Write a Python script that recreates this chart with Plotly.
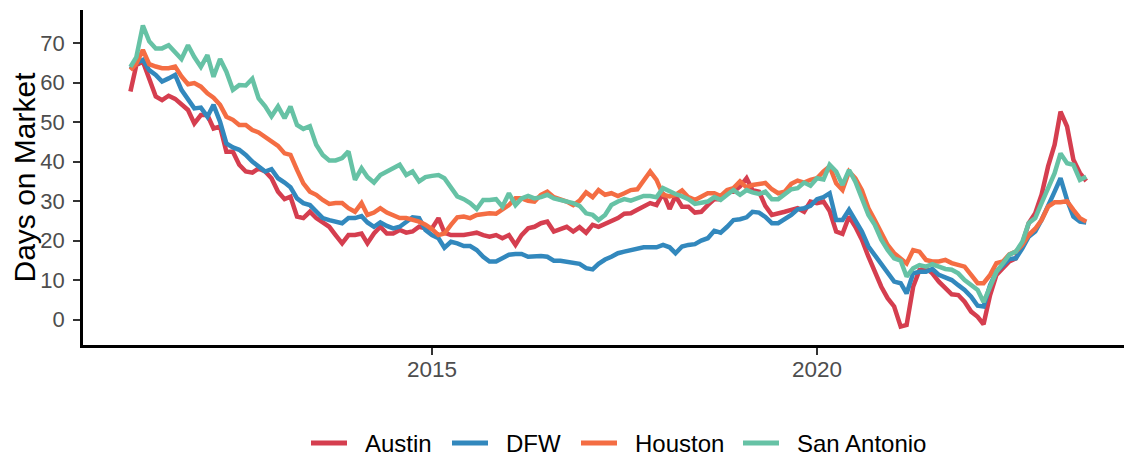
import pandas as pd
import plotly.graph_objects as go

dates = pd.date_range("2011-02-01", periods=150, freq="MS")

austin = [57.8, 64.5, 65.4, 60.7, 56.5, 55.6, 56.7, 55.9, 54.4, 53.1, 49.7, 51.8, 51.8, 48.4, 48.9, 42.5, 42.5, 39.2, 37.5, 37.2, 38.3, 37.5, 35.8, 32.4, 30.5,
          31.1, 26.1, 25.7, 27.3, 25.7, 24.6, 23.5, 21.4, 19.3, 21.4, 21.4, 21.8, 19.3, 21.8, 23.5, 21.8, 21.8, 22.7, 22.0, 22.3, 23.5, 23.1, 23.1, 25.7, 22.0,
          21.4, 21.4, 21.4, 21.7, 22.0, 21.4, 21.0, 21.4, 20.6, 21.4, 18.9, 21.4, 23.1, 23.5, 24.4, 24.8, 22.3, 22.9, 23.5, 22.3, 23.4, 22.0, 24.0, 23.5, 24.2,
          24.8, 25.7, 26.8, 26.9, 27.8, 28.6, 29.5, 29.0, 32.0, 28.0, 31.3, 28.6, 28.6, 27.1, 27.3, 29.0, 30.5, 30.5, 32.4, 32.4, 33.7, 35.8, 32.8, 32.4, 28.8,
          26.5, 26.8, 27.3, 27.8, 28.2, 27.3, 29.9, 29.5, 29.9, 27.5, 22.3, 21.7, 26.1, 23.5, 20.2, 15.9, 12.1, 8.3, 5.4, 3.3, -1.8, -1.4, 8.3, 12.5, 13.0,
          11.7, 9.6, 7.9, 6.4, 6.2, 4.5, 2.0, 0.7, -1.2, 6.2, 11.3, 13.1, 14.7, 15.5, 19.3, 24.4, 26.9, 31.6, 38.8, 44.3, 52.7, 48.9, 40.5, 37.1, 35.1]

dfw = [63.5, 65.0, 65.8, 63.2, 62.0, 60.3, 61.1, 62.0, 58.2, 55.6, 53.5, 53.7, 51.4, 54.4, 50.1, 44.6, 43.6, 43.0, 41.7, 40.0, 38.7, 37.5, 38.1, 35.8, 34.7,
       33.5, 30.7, 29.5, 29.0, 27.3, 25.7, 25.2, 24.8, 24.4, 25.7, 25.7, 26.2, 24.6, 23.5, 24.6, 23.7, 23.1, 23.5, 24.8, 25.9, 25.7, 22.7, 21.4, 20.6, 18.2,
       19.7, 19.3, 18.6, 18.6, 17.6, 15.9, 14.7, 14.7, 15.5, 16.4, 16.6, 16.6, 15.9, 16.1, 16.1, 15.9, 14.9, 14.9, 14.7, 14.4, 14.1, 13.0, 12.7, 14.1, 15.2,
       15.9, 16.8, 17.2, 17.6, 18.0, 18.3, 18.3, 18.3, 18.9, 18.3, 16.8, 18.5, 18.9, 19.1, 20.0, 20.6, 22.5, 22.0, 23.5, 25.2, 25.4, 25.9, 27.3, 27.1, 26.0,
       24.4, 24.4, 25.4, 26.5, 27.9, 28.2, 28.8, 30.5, 31.0, 32.0, 25.2, 25.2, 27.8, 25.2, 22.3, 18.5, 16.4, 14.2, 12.1, 9.6, 9.2, 6.6, 11.7, 12.1, 12.1,
       12.8, 11.3, 10.6, 10.0, 8.7, 7.5, 5.8, 3.5, 3.3, 8.7, 12.1, 13.8, 15.3, 15.5, 18.0, 21.0, 22.3, 25.2, 28.6, 32.4, 35.8, 30.3, 26.1, 24.8, 24.6]

houston = [63.2, 64.9, 68.3, 64.7, 64.1, 63.7, 63.7, 64.1, 61.6, 59.6, 59.9, 59.0, 57.3, 56.2, 54.4, 51.4, 50.6, 49.3, 49.3, 48.0, 47.4, 46.3, 45.1, 44.0, 42.1,
           41.7, 37.9, 34.5, 32.4, 31.6, 30.3, 29.3, 29.5, 29.5, 28.2, 27.3, 29.5, 26.5, 27.1, 28.2, 27.1, 26.5, 25.7, 25.7, 25.2, 24.8, 24.0, 22.9, 21.4, 21.8,
           24.0, 25.9, 26.1, 25.7, 26.5, 26.8, 26.9, 26.8, 27.8, 29.0, 30.7, 30.7, 30.1, 29.9, 31.6, 32.4, 31.0, 30.5, 29.9, 29.0, 30.1, 32.2, 31.0, 32.8, 31.6,
           32.0, 31.3, 32.0, 32.8, 33.0, 35.0, 37.5, 35.4, 31.6, 31.2, 31.6, 32.7, 31.0, 30.3, 31.0, 32.0, 32.0, 31.3, 32.8, 33.3, 35.0, 33.5, 34.1, 34.4, 34.6,
           33.0, 32.0, 32.4, 34.4, 35.2, 34.7, 35.4, 35.8, 37.5, 38.8, 34.5, 32.8, 37.5, 35.8, 32.8, 28.2, 25.2, 21.9, 18.9, 16.8, 15.5, 14.2, 17.6, 17.2, 15.1,
           14.7, 14.7, 15.1, 14.3, 13.7, 13.4, 11.3, 9.2, 9.2, 11.3, 14.3, 14.7, 16.5, 17.2, 18.9, 21.4, 23.0, 25.2, 28.6, 29.7, 29.7, 30.0, 27.8, 25.7, 24.8]

san_antonio = [64.0, 66.5, 74.5, 70.5, 68.7, 68.7, 69.5, 67.5, 66.0, 69.5, 66.5, 64.0, 67.0, 61.5, 66.0, 62.8, 58.2, 59.4, 59.3, 61.0, 56.0, 54.0, 51.5, 54.0, 51.0,
               54.0, 49.3, 48.3, 49.0, 44.3, 41.7, 40.3, 40.3, 40.9, 42.6, 35.4, 38.3, 36.1, 34.7, 36.6, 37.5, 38.1, 39.2, 36.6, 37.5, 35.0, 36.1, 36.4, 36.6, 35.8,
               33.3, 31.2, 30.5, 29.5, 28.0, 30.3, 30.3, 30.5, 28.6, 32.0, 29.0, 30.7, 31.3, 30.7, 31.0, 31.6, 30.7, 30.3, 29.9, 29.5, 28.8, 26.9, 26.5, 25.2, 26.5,
               29.0, 29.9, 30.5, 30.1, 30.7, 31.3, 31.3, 31.0, 33.3, 32.4, 31.8, 31.2, 30.5, 29.3, 29.5, 29.9, 31.0, 30.3, 31.6, 32.8, 31.6, 32.8, 32.2, 31.8, 32.4,
               30.5, 30.5, 31.6, 33.0, 33.3, 34.7, 33.9, 35.8, 35.5, 39.2, 37.5, 34.1, 37.9, 34.9, 30.7, 26.5, 24.0, 20.2, 17.6, 15.5, 14.9, 10.9, 13.0, 13.8, 13.4,
               14.0, 13.4, 12.8, 12.6, 11.7, 10.0, 8.9, 7.5, 4.4, 8.7, 12.1, 14.2, 16.4, 17.2, 19.7, 24.4, 25.7, 29.5, 33.3, 37.1, 42.1, 39.6, 39.2, 35.4, 36.2]

series_names = ["Austin", "DFW", "Houston", "San Antonio"]
series_values = [austin, dfw, houston, san_antonio]
colors = ["#D53E4F", "#3288BD", "#F46D43", "#66C2A5"]

y_ticks = [0, 10, 20, 30, 40, 50, 60, 70]
x_tick_labels = ["2015", "2020"]
x_tick_vals = ["2015-01-01", "2020-01-01"]

font_family = "Liberation Sans, Arial, sans-serif"

# page has an 8px body margin; figure sized to fill the rest of the window
OFF = 8
W, H = 1132 - OFF, 458 - OFF
ML, MR, MT, MB = 83 - OFF, 4, 10 - OFF, 113
PW, PH = W - ML - MR, H - MT - MB

def px_to_paper_x(px):
    return (px - OFF - ML) / PW

def px_to_paper_y(py):
    return (H - MB - (py - OFF)) / PH

fig = go.Figure()
for name, vals, col in zip(series_names, series_values, colors):
    fig.add_trace(go.Scatter(x=dates, y=vals, mode="lines", name=name,
                             line=dict(color=col, width=4.5), showlegend=False))

# manual legend (keys + labels) below the panel, positions in page pixels
legend_key_left = [311, 452, 581, 743]
legend_y = 443
for name, col, kx in zip(series_names, colors, legend_key_left):
    fig.add_shape(type="line", xref="paper", yref="paper",
                  x0=px_to_paper_x(kx), x1=px_to_paper_x(kx + 36),
                  y0=px_to_paper_y(legend_y), y1=px_to_paper_y(legend_y),
                  line=dict(color=col, width=5))
    fig.add_annotation(xref="paper", yref="paper", x=px_to_paper_x(kx + 52),
                       y=px_to_paper_y(legend_y), xanchor="left", yanchor="middle",
                       text=name, showarrow=False,
                       font=dict(size=24, color="black", family=font_family))

fig.update_layout(
    width=W, height=H,
    margin=dict(l=ML, r=MR, t=MT, b=MB, autoexpand=False),
    paper_bgcolor="white", plot_bgcolor="white",
    font=dict(family=font_family, color="black"),
    showlegend=False,
    xaxis=dict(range=["2010-06-21", "2024-01-15"], tickvals=x_tick_vals, ticktext=x_tick_labels,
               showgrid=False, zeroline=False, showline=True, linecolor="black", linewidth=2.5,
               ticks="outside", ticklen=7, tickwidth=2, tickcolor="#333333", automargin=False,
               ticklabelstandoff=-5,
               tickfont=dict(size=22.5, color="#4D4D4D", family=font_family)),
    yaxis=dict(range=[-6.46, 78.43], tickvals=y_ticks, showgrid=False, zeroline=False,
               showline=True, linecolor="black", linewidth=2.5, automargin=False,
               ticks="outside", ticklen=7, tickwidth=2, tickcolor="#333333",
               ticklabelstandoff=4,
               tickfont=dict(size=22, color="#4D4D4D", family=font_family),
               title=dict(text="Days on Market", font=dict(size=30, color="black", family=font_family),
                          standoff=0)),
)

fig.write_html("out.html")
